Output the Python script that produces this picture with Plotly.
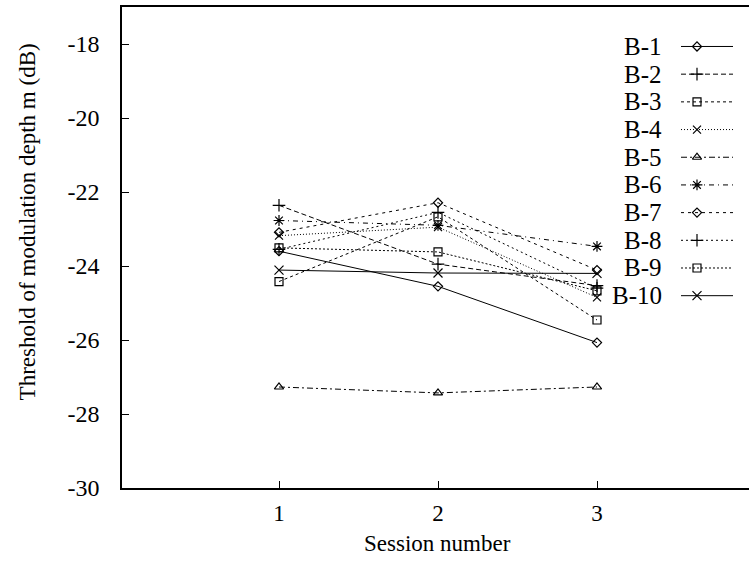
import plotly.graph_objects as go

sessions = [1, 2, 3]
series_names = ["B-1", "B-2", "B-3", "B-4", "B-5", "B-6", "B-7", "B-8", "B-9", "B-10"]
B1 = [-23.60, -24.55, -26.07]
B2 = [-22.36, -23.95, -24.53]
B3 = [-24.42, -22.67, -25.46]
B4 = [-23.18, -22.95, -24.85]
B5 = [-27.27, -27.43, -27.27]
B6 = [-22.77, -22.90, -23.47]
B7 = [-23.09, -22.29, -24.11]
B8 = [-23.55, -22.55, -24.60]
B9 = [-23.51, -23.62, -24.67]
B10 = [-24.11, -24.19, -24.20]
values = [B1, B2, B3, B4, B5, B6, B7, B8, B9, B10]
y_ticks = [-30, -28, -26, -24, -22, -20, -18]
y_tick_labels = ["-30", "-28", "-26", "-24", "-22", "-20", "-18"]
x_ticks = [1, 2, 3]
x_tick_labels = ["1", "2", "3"]
x_title = "Session number"
y_title = "Threshold of modulation depth m (dB)"

symbols = ["diamond-open", "cross-thin-open", "square-open", "x-thin-open", "triangle-up-open",
           "asterisk-open", "diamond-open", "cross-thin-open", "square-open", "x-thin-open"]
dashes = ["solid", "5px,3px", "3px,3px", "1px,2px", "6px,3px,2px,3px",
          "5px,4px,1px,4px", "3px,4px", "2px,3px", "2px,2px", "solid"]
msizes = [7, 9, 8, 8, 8, 9, 7, 9, 8, 9]

FONT = "Liberation Serif"
W, H = 749, 563
L, T, B = 122, 6.5, 75.3
PW, PH = W - L, H - T - B

fig = go.Figure()
for name, vals, sym, dash, ms in zip(series_names, values, symbols, dashes, msizes):
    fig.add_trace(go.Scatter(
        x=sessions, y=vals, mode="lines+markers", name=name, showlegend=False,
        line=dict(color="black", width=1, dash=dash),
        marker=dict(symbol=sym, size=ms, color="black", line=dict(color="black", width=1.2)),
    ))

# custom legend (text on the left, sample on the right), in pixel units of an overlay axis
row0, drow = 46, 27.7
for i, (name, sym, dash, ms) in enumerate(zip(series_names, symbols, dashes, msizes)):
    yy = row0 + i * drow
    fig.add_trace(go.Scatter(
        x=[681, 733], y=[yy, yy], mode="lines", xaxis="x2", yaxis="y2", showlegend=False,
        line=dict(color="black", width=1, dash=dash), hoverinfo="skip"))
    fig.add_trace(go.Scatter(
        x=[697], y=[yy], mode="markers", xaxis="x2", yaxis="y2", showlegend=False,
        marker=dict(symbol=sym, size=ms, color="black", line=dict(color="black", width=1.2)),
        hoverinfo="skip"))
    fig.add_annotation(x=664, y=yy, xref="x2", yref="y2", text=name, showarrow=False,
                       xanchor="right", yanchor="middle",
                       font=dict(family=FONT, size=25, color="black"))

# axis titles, placed by pixel position
fig.add_annotation(x=(27 - L) / PW, y=(H - B - 222) / PH, xref="paper", yref="paper",
                   text=y_title, textangle=-90, showarrow=False,
                   xanchor="center", yanchor="middle",
                   font=dict(family=FONT, size=23, color="#000000"))
fig.add_annotation(x=(437 - L) / PW, y=(H - B - 543) / PH, xref="paper", yref="paper",
                   text=x_title, showarrow=False, xanchor="center", yanchor="middle",
                   font=dict(family=FONT, size=23, color="#000000"))

x_lo = 1 - (279 - L) / 159
x_hi = 1 + (W - 279) / 159

fig.update_layout(
    width=W, height=H,
    margin=dict(l=L, r=0, t=T, b=B, pad=0),
    plot_bgcolor="white", paper_bgcolor="white",
    font=dict(family=FONT, color="black", size=24),
    xaxis=dict(range=[x_lo, x_hi], tickvals=x_ticks, ticktext=x_tick_labels, ticks="inside",
               ticklen=7, tickcolor="black", ticklabelstandoff=4,
               showline=True, linecolor="black", linewidth=1.5, mirror=True, showgrid=False,
               zeroline=False, tickfont=dict(family=FONT, size=23)),
    yaxis=dict(range=[-30, -17], tickvals=y_ticks, ticktext=y_tick_labels, ticks="inside",
               ticklen=7, tickcolor="black",
               showline=True, linecolor="black", linewidth=1.5, showgrid=False, zeroline=False,
               tickfont=dict(family=FONT, size=24), ticklabelstandoff=16),
    xaxis2=dict(overlaying="x", range=[L, W], visible=False),
    yaxis2=dict(overlaying="y", range=[H - B, T], visible=False),
)

fig.write_html("out.html", config={"displayModeBar": False},
               post_script="document.body.style.margin='0px';")
